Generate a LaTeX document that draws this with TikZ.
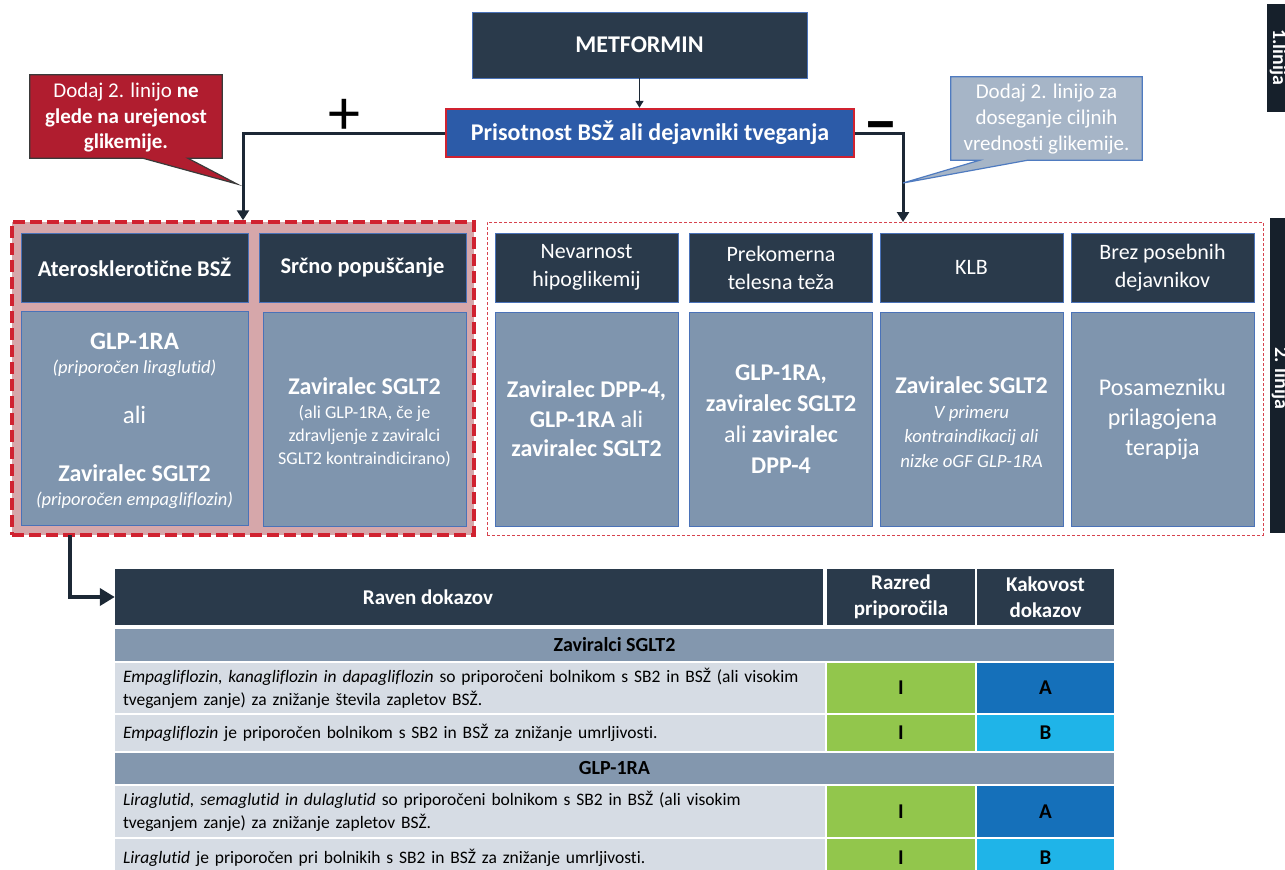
\documentclass[tikz,border=0pt]{standalone}
\usepackage{fontspec}
\setmainfont{Carlito}[Ligatures=NoCommon]
\usetikzlibrary{arrows.meta,calc}
\definecolor{navy}{HTML}{2A3A4B}
\definecolor{slate}{HTML}{7F95AE}
\definecolor{edgeblue}{HTML}{4A72B8}
\definecolor{pinkbg}{HTML}{D6A7AA}
\definecolor{dashred}{HTML}{D02230}
\definecolor{prisblue}{HTML}{2C5BA8}
\definecolor{callred}{HTML}{B01D2F}
\definecolor{calledge}{HTML}{3A3A3A}
\definecolor{callgray}{HTML}{A6B5C7}
\definecolor{callgrayedge}{HTML}{4F7BC0}
\definecolor{linecol}{HTML}{1C2835}
\definecolor{barcol}{HTML}{16202B}
\definecolor{secrow}{HTML}{8397AE}
\definecolor{rowgray}{HTML}{D6DCE4}
\definecolor{cgreen}{HTML}{92C64C}
\definecolor{cdblue}{HTML}{1570BA}
\definecolor{clblue}{HTML}{1FB4E8}
\newcommand{\myfs}[2]{\fontsize{#1}{#2}\selectfont}
\begin{document}
\begin{tikzpicture}[x=1pt,y=-1pt,
  hdrbox/.style={draw=edgeblue, line width=0.8pt, fill=navy, text=white, align=center, inner sep=2pt},
  bodybox/.style={draw=edgeblue, line width=0.8pt, fill=slate, text=white, align=center, inner sep=2pt, minimum height=214pt},
  lbl/.style={text=white, align=center, inner sep=0pt},
  branch/.style={draw=linecol, line width=3pt, -{Triangle[width=12pt,length=10pt]}},
  thead/.style={fill=navy, text=white, align=center, inner sep=0pt, font=\bfseries\myfs{21}{26}},
  secrowstyle/.style={fill=secrow, text=black, inner sep=0pt, font=\bfseries\myfs{20}{24}, minimum width=999pt},
  rowstyle/.style={fill=rowgray, text=black, align=left, inner xsep=8pt, inner ysep=0pt, text width=694pt, font=\myfs{17.5}{23}},
  gcell/.style={fill=cgreen, text=black, inner sep=0pt, minimum width=148pt, font=\bfseries\myfs{21}{24}},
  acell/.style={fill=cdblue, text=black, inner sep=0pt, minimum width=137pt, font=\bfseries\myfs{21}{24}},
  bcell/.style={fill=clblue, text=black, inner sep=0pt, minimum width=137pt, font=\bfseries\myfs{21}{24}}
]
\useasboundingbox (0,0) rectangle (1285,870);

% right-side bars
\node[fill=barcol, minimum width=46pt, minimum height=108pt, inner sep=0] (bar1) at (1290,58) {};
\node[rotate=-90, anchor=base, text=white, font=\bfseries\myfs{20}{24}, inner sep=0] (bar1t) at (1273,57) {1.linija};
\node[fill=barcol, minimum width=43pt, minimum height=315pt, inner sep=0] (bar2) at (1291.5,375.5) {};
\node[rotate=-90, anchor=base, text=white, font=\bfseries\myfs{20}{24}, inner sep=0] (bar2t) at (1275,378) {2. linija};

% top boxes
\node[hdrbox, minimum width=335pt, minimum height=66pt, font=\bfseries\myfs{24}{29}] (met) at (639.5,45) {METFORMIN};
\node[draw=dashred, line width=2.5pt, fill=prisblue, text=white, minimum width=408pt, minimum height=48pt, inner sep=0pt, font=\bfseries\myfs{24}{29}] (pris) at (650,133) {Prisotnost BSŽ ali dejavniki tveganja};
\draw[draw=linecol, line width=1.5pt, -{Triangle[width=8pt,length=7pt]}] (met.south) -- (met.south |- pris.north);

\node[font=\myfs{64}{64}, inner sep=0] (plus) at (344,117) {+};
\node[font=\bfseries\myfs{70}{70}, inner sep=0, anchor=base] (minus) at (881,144) {–};

% panels
\node[draw=dashred, line width=3.5pt, dash pattern=on 12pt off 5pt, fill=pinkbg, minimum width=462pt, minimum height=313pt, inner sep=0] (lbox) at (243,378.5) {};
\node[draw=dashred!85, line width=1pt, dash pattern=on 3pt off 2pt, fill=white, minimum width=776pt, minimum height=313pt, inner sep=0] (rbox) at (875,378.5) {};

\coordinate (rin) at (903,222);
\draw[branch] (pris.west) -| (lbox.north);
\draw[branch] (pris.east) -| (rin);

% callouts
\node[minimum width=192pt, minimum height=83pt, inner sep=0] (rcallbox) at (126,116.5) {};
\coordinate (rtip) at (237,184);
\filldraw[fill=callred, draw=calledge, line width=1.2pt] (rcallbox.north west) -- (rcallbox.north east) -- (rcallbox.south east) -- ($(rcallbox.south west)+(158,0)$) -- (rtip) -- ($(rcallbox.south west)+(113,0)$) -- (rcallbox.south west) -- cycle;
\node[lbl, font=\myfs{21}{25.5}] (rcall) at (126,117.5) {Dodaj 2. linijo \textbf{ne}\\\textbf{glede na urejenost}\\\textbf{glikemije.}};

\node[minimum width=191pt, minimum height=83pt, inner sep=0] (bcallbox) at (1046.5,118.5) {};
\coordinate (btip) at (903,183);
\filldraw[fill=callgray, draw=callgrayedge, line width=1.2pt] (bcallbox.north west) -- (bcallbox.north east) -- (bcallbox.south east) -- ($(bcallbox.south west)+(77,0)$) -- (btip) -- ($(bcallbox.south west)+(29,0)$) -- (bcallbox.south west) -- cycle;
\node[lbl, font=\myfs{21}{26}] (bcall) at (1046.5,119) {Dodaj 2. linijo za\\doseganje ciljnih\\vrednosti glikemije.};

% left panel
\node[hdrbox, minimum width=227pt, minimum height=69pt, font=\bfseries\myfs{22.5}{27}] (h1) at (134.5,267.5) {Aterosklerotične BSŽ};
\node[hdrbox, minimum width=207pt, minimum height=69pt, font=\bfseries\myfs{22.5}{27}] (h2) at (362.5,267.5) {Srčno popuščanje};
\node[bodybox, minimum width=227pt] (b1) at (134.5,418) {};
\node[bodybox, minimum width=203pt] (b2) at (364.5,419) {};
\node[lbl, anchor=base, font=\bfseries\myfs{25}{30}] (b1a) at (134.5,349) {GLP-1RA};
\node[lbl, anchor=base, font=\itshape\myfs{18.5}{22}] (b1b) at (134.5,373) {(priporočen liraglutid)};
\node[lbl, anchor=base, font=\myfs{25}{30}] (b1c) at (134.5,423) {ali};
\node[lbl, anchor=base, font=\bfseries\myfs{24}{29}] (b1d) at (134.5,481) {Zaviralec SGLT2};
\node[lbl, anchor=base, font=\itshape\myfs{18.5}{22}] (b1e) at (134.5,505) {(priporočen empagliflozin)};
\node[lbl, anchor=base, font=\bfseries\myfs{24}{29}] (b2a) at (364.5,394) {Zaviralec SGLT2};
\node[lbl, font=\myfs{18}{23}] (b2b) at (364.5,436) {(ali GLP-1RA, če je\\zdravljenje z zaviralci\\SGLT2 kontraindicirano)};

% right panel
\node[hdrbox, minimum width=183pt, minimum height=69pt, font=\myfs{22}{28}] (h3) at (586.5,267.5) {Nevarnost\\hipoglikemij};
\node[hdrbox, minimum width=183pt, minimum height=69pt, font=\myfs{22}{28}] (h4) at (781,267.5) {Prekomerna\\telesna teža};
\node[hdrbox, minimum width=183pt, minimum height=69pt, font=\myfs{22}{28}] (h5) at (971.5,267.5) {KLB};
\node[hdrbox, minimum width=183pt, minimum height=69pt, font=\myfs{22}{28}] (h6) at (1162.5,267.5) {Brez posebnih\\dejavnikov};
\node[bodybox, minimum width=183pt, font=\myfs{24}{29.5}] (c1) at (586.5,419) {\textbf{Zaviralec DPP-4,}\\\textbf{GLP-1RA} ali\\\textbf{zaviralec SGLT2}};
\node[bodybox, minimum width=183pt, font=\myfs{24}{31}] (c2) at (781,419) {\textbf{GLP-1RA,}\\\textbf{zaviralec SGLT2}\\ali \textbf{zaviralec}\\\textbf{DPP-4}};
\node[bodybox, minimum width=183pt] (c3) at (971.5,419) {};
\node[lbl, anchor=base, font=\bfseries\myfs{24}{29}] (c3a) at (971.5,393) {Zaviralec SGLT2};
\node[lbl, font=\itshape\myfs{18.8}{24.5}] (c3b) at (971.5,436.5) {V primeru\\kontraindikacij ali\\nizke oGF GLP-1RA};
\node[bodybox, minimum width=183pt, font=\myfs{24}{30}] (c4) at (1162.5,419) {Posamezniku\\prilagojena\\terapija};

% table
\node[thead, minimum width=708pt, minimum height=56pt] (th1) at (469,597) {};
\node[thead] (th1t) at (428,597) {Raven dokazov};
\node[thead, minimum width=148pt, minimum height=56pt] (th2) at (901,597) {Razred\\priporočila};
\node[thead, minimum width=137pt, minimum height=56pt] (th3) at (1045.5,597) {Kakovost\\dokazov};
\coordinate (lout) at (70,535);
\draw[draw=linecol, line width=4pt, -{Triangle[width=17pt,length=15pt]}] (lout) |- (th1.west);

\node[secrowstyle, minimum height=32pt] (s1) at (614.5,645) {Zaviralci SGLT2};
\node[rowstyle, minimum height=50pt] (r1) at (470,688) {\textit{Empagliflozin, kanagliflozin in dapagliflozin} so priporočeni bolnikom s SB2 in BSŽ (ali visokim\\tveganjem zanje) za znižanje števila zapletov BSŽ.};
\node[gcell, minimum height=50pt] (g1) at (901,688) {I};
\node[acell, minimum height=50pt] (q1) at (1045.5,688) {A};
\node[rowstyle, minimum height=36pt] (r2) at (470,733) {\textit{Empagliflozin} je priporočen bolnikom s SB2 in BSŽ za znižanje umrljivosti.};
\node[gcell, minimum height=36pt] (g2) at (901,733) {I};
\node[bcell, minimum height=36pt] (q2) at (1045.5,733) {B};
\node[secrowstyle, minimum height=31pt] (s2) at (614.5,768.5) {GLP-1RA};
\node[rowstyle, minimum height=51pt] (r3) at (470,811.5) {\textit{Liraglutid, semaglutid in dulaglutid} so priporočeni bolnikom s SB2 in BSŽ (ali visokim\\tveganjem zanje) za znižanje zapletov BSŽ.};
\node[gcell, minimum height=51pt] (g3) at (901,811.5) {I};
\node[acell, minimum height=51pt] (q3) at (1045.5,811.5) {A};
\node[rowstyle, minimum height=37pt] (r4) at (470,857.5) {\textit{Liraglutid} je priporočen pri bolnikih s SB2 in BSŽ za znižanje umrljivosti.};
\node[gcell, minimum height=37pt] (g4) at (901,857.5) {I};
\node[bcell, minimum height=37pt] (q4) at (1045.5,857.5) {B};
\end{tikzpicture}
\end{document}
